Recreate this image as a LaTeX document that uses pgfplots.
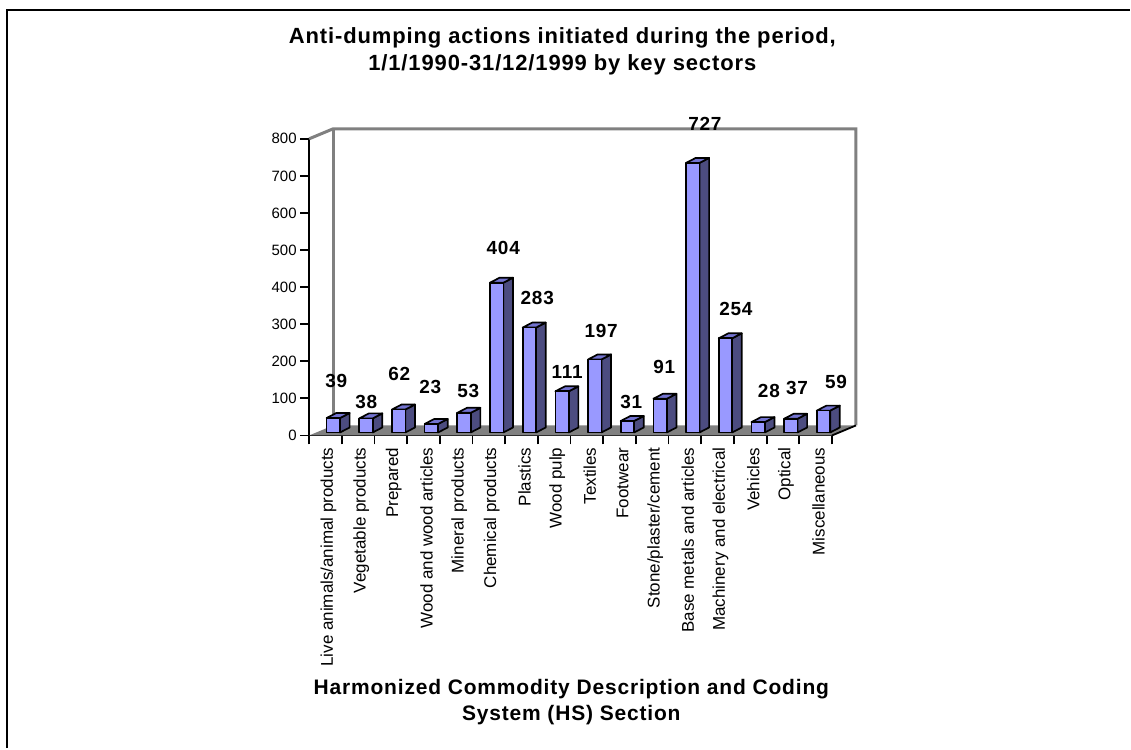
\documentclass[border=0pt]{standalone}
\usepackage{fontspec}
\setmainfont{Liberation Sans}
\newfontfamily\lsfont[LetterSpace=4]{Liberation Sans}
\usepackage{pgfplots}
\usepackage{pgfplotstable}
\pgfplotsset{compat=1.18}
\definecolor{barfront}{HTML}{9999FF}
\definecolor{barside}{HTML}{4C4C80}
\definecolor{bartop}{HTML}{7373D0}
\definecolor{wall}{HTML}{808080}
\pgfplotstableread{
x y label
0.331 148 39
1.249 91 38
2.258 167 62
3.206 132 23
4.369 121 53
5.441 506 404
6.481 372 283
7.399 170 111
8.439 282 197
9.356 89 31
10.366 186 91
11.612 841 727
12.561 342 254
13.570 121 28
14.432 129 37
15.624 145 59
}\labeltable
\begin{document}
\begin{tikzpicture}[x=1pt,y=1pt]
\path[fill=white] (0,0) rectangle (1131,749);
\draw[black,line width=2.8pt] (7,0) -- (7,739) -- (1131,739);
\begin{axis}[
  at={(309.5pt,313pt)},anchor=south west,
  scale only axis,width=523.5pt,height=297pt,
  xmin=-0.5,xmax=15.5,ymin=0,ymax=800,
  clip=false,
  axis x line=bottom,axis y line=left,
  axis line style={-,line width=1.8pt,black},
  xtick={0,...,15},
  minor xtick={-0.5,0.5,...,15.5},
  major x tick style={draw=none},
  minor x tick style={line width=1.8pt,black},
  y tick style={line width=1.8pt,black},
  tick align=outside,
  major tick length=9pt,
  minor tick length=9pt,
  ytick={0,100,...,800},
  xticklabels={Live animals/animal products,Vegetable products,Prepared,Wood and wood articles,Mineral products,Chemical products,Plastics,Wood pulp,Textiles,Footwear,Stone/plaster/cement,Base metals and articles,Machinery and electrical,Vehicles,Optical,Miscellaneous},
  xticklabel style={rotate=90,anchor=east,font=\fontsize{17}{19}\selectfont,inner xsep=0pt,inner ysep=0pt,xshift=-3pt,yshift=-3pt},
  yticklabel style={font=\fontsize{15}{17}\selectfont},
  /pgf/number format/assume math mode=true,
]
% back walls
\addplot[wall,line width=3pt,forget plot] coordinates {(-0.5,800) (0.234,827) (16.234,827) (16.234,27)};
\addplot[wall,line width=3pt,forget plot] coordinates {(0.234,827) (0.234,27)};
% floor
\addplot[fill=wall,draw=none,forget plot] coordinates {(-0.5,0) (0.234,27) (16.234,27) (15.5,0)} -- cycle;
\addplot[black,line width=1.8pt,forget plot] coordinates {(15.5,0) (16.234,27)};
% bars
\pgfplotsforeachungrouped \i/\v in {0/39,1/38,2/62,3/23,4/53,5/404,6/283,7/111,8/197,9/31,10/91,11/727,12/254,13/28,14/37,15/59}{
  \pgfmathsetmacro{\xa}{\i+0.035}
  \pgfmathsetmacro{\xb}{\xa+0.41}
  \pgfmathsetmacro{\xc}{\xb+0.295}
  \pgfmathsetmacro{\xd}{\xa+0.295}
  \pgfmathsetmacro{\ya}{8}
  \pgfmathsetmacro{\yb}{\ya+\v}
  \pgfmathsetmacro{\yc}{\yb+13.5}
  \pgfmathsetmacro{\ye}{\ya+13.5}
  \edef\temp{
    \noexpand\addplot[fill=barside,draw=black,line width=1.7pt,line join=round,forget plot] coordinates {(\xb,\ya) (\xc,\ye) (\xc,\yc) (\xb,\yb)} -- cycle;
    \noexpand\addplot[fill=bartop,draw=black,line width=1.7pt,line join=round,forget plot] coordinates {(\xa,\yb) (\xb,\yb) (\xc,\yc) (\xd,\yc)} -- cycle;
    \noexpand\addplot[fill=barfront,draw=black,line width=1.7pt,line join=round,forget plot] coordinates {(\xa,\ya) (\xb,\ya) (\xb,\yb) (\xa,\yb)} -- cycle;
  }
  \temp
}
% data labels
\addplot[draw=none,mark=none,forget plot,
  point meta=explicit symbolic,
  nodes near coords,
  every node near coord/.style={anchor=center,inner sep=0pt,font=\lsfont\bfseries\fontsize{19}{21}\selectfont}]
  table[x=x,y=y,meta=label] {\labeltable};
\end{axis}
\node[align=center,font=\lsfont\bfseries\fontsize{22}{27.5}\selectfont] at (563,697.5) {Anti-dumping actions initiated during the period,\\1/1/1990-31/12/1999 by key sectors};
\node[align=center,font=\lsfont\bfseries\fontsize{21}{26}\selectfont] at (572,46) {Harmonized Commodity Description and Coding\\System (HS) Section};
\end{tikzpicture}
\end{document}
